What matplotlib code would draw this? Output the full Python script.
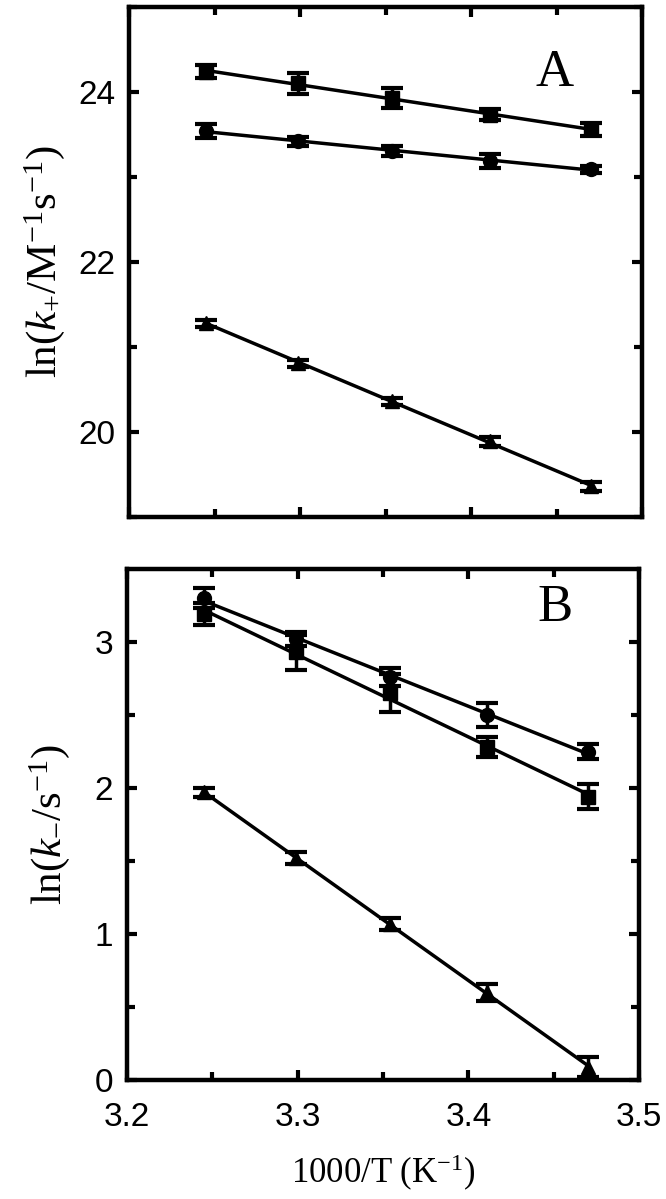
import numpy as np
import matplotlib
matplotlib.use("Agg")
import matplotlib.pyplot as plt

plt.rcParams['font.family'] = ['Liberation Sans', 'DejaVu Sans']
plt.rcParams['mathtext.fontset'] = 'custom'
plt.rcParams['mathtext.rm'] = 'Liberation Serif'
plt.rcParams['mathtext.it'] = 'Liberation Serif:italic'

# 1000/T values (K^-1)
inv_T = [3.245, 3.299, 3.354, 3.411, 3.470]

# panel A: ln(k+)
a_square = [24.24, 24.10, 23.93, 23.73, 23.56]
a_square_err = [0.08, 0.12, 0.12, 0.065, 0.08]
a_circle = [23.54, 23.42, 23.31, 23.19, 23.09]
a_circle_err = [0.08, 0.05, 0.06, 0.08, 0.04]
a_tri = [21.28, 20.81, 20.36, 19.89, 19.36]
a_tri_err = [0.04, 0.04, 0.04, 0.05, 0.05]

# panel B: ln(k-)
b_circle = [3.30, 3.02, 2.76, 2.50, 2.25]
b_circle_err = [0.07, 0.05, 0.06, 0.08, 0.05]
b_square = [3.19, 2.93, 2.65, 2.28, 1.94]
b_square_err = [0.075, 0.12, 0.13, 0.07, 0.085]
b_tri = [1.97, 1.52, 1.07, 0.60, 0.09]
b_tri_err = [0.03, 0.04, 0.04, 0.06, 0.07]


def draw_series(ax, y, err, marker):
    x = np.array(inv_T)
    p = np.polyfit(x, y, 1)
    xl = np.array([x.min(), x.max()])
    ax.plot(xl, np.polyval(p, xl), color='black', lw=2.5, zorder=2)
    ax.errorbar(x, y, yerr=err, fmt=marker, color='black', ms=10,
                ecolor='black', elinewidth=2.5, capsize=8, capthick=3,
                zorder=3)


def style_axes(ax):
    for s in ax.spines.values():
        s.set_linewidth(3.2)
    ax.tick_params(which='both', direction='in', top=True, right=True,
                   width=3, labelsize=24)
    ax.tick_params(axis='y', pad=10)
    ax.tick_params(axis='x', pad=16)
    ax.tick_params(which='major', length=7)
    ax.tick_params(which='minor', length=6)
    ax.set_xlim(3.2, 3.5)
    ax.set_xticks([3.2, 3.3, 3.4, 3.5])
    ax.set_xticks([3.25, 3.35, 3.45], minor=True)


fig = plt.figure(figsize=(6.66, 11.99), dpi=100)
axA = fig.add_axes([0.194, 0.5688, 0.770, 0.4254])
axB = fig.add_axes([0.1907, 0.0992, 0.769, 0.4262])

draw_series(axA, a_square, a_square_err, 's')
draw_series(axA, a_circle, a_circle_err, 'o')
draw_series(axA, a_tri, a_tri_err, '^')
style_axes(axA)
axA.set_ylim(19, 25)
axA.set_yticks([20, 22, 24])
axA.set_yticks([19, 21, 23, 25], minor=True)
axA.set_xticklabels([])
axA.set_ylabel(r'$\mathrm{ln(}k_{+}\mathrm{/M}^{-1}\mathrm{s}^{-1}\mathrm{)}$',
               fontsize=31, labelpad=8)
axA.text(0.83, 0.87, 'A', transform=axA.transAxes, fontsize=38,
         family='Liberation Serif', ha='center', va='center')

draw_series(axB, b_circle, b_circle_err, 'o')
draw_series(axB, b_square, b_square_err, 's')
draw_series(axB, b_tri, b_tri_err, '^')
style_axes(axB)
axB.set_ylim(0, 3.5)
axB.set_yticks([0, 1, 2, 3])
axB.set_yticks([0.5, 1.5, 2.5], minor=True)
axB.set_ylabel(r'$\mathrm{ln(}k_{-}\mathrm{/s}^{-1}\mathrm{)}$',
               fontsize=31, labelpad=16)
axB.set_xlabel(r'$\mathrm{1000/T\ (K}^{-1}\mathrm{)}$', fontsize=25,
               labelpad=14)
axB.text(0.836, 0.924, 'B', transform=axB.transAxes, fontsize=38,
         family='Liberation Serif', ha='center', va='center')

fig.savefig('out.png', dpi=100)
